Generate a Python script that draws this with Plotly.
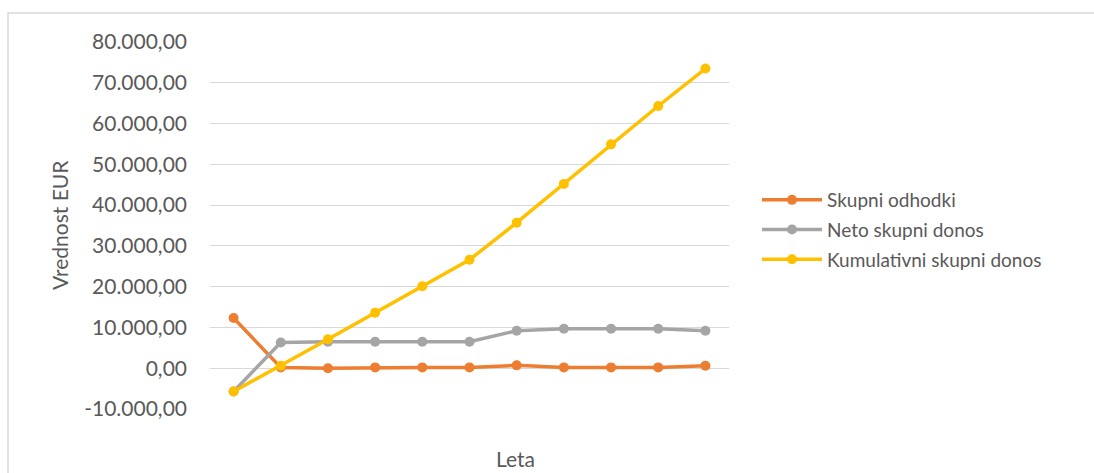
import plotly.graph_objects as go

leta = [1, 2, 3, 4, 5, 6, 7, 8, 9, 10, 11]
skupni_odhodki = [12300, 200, 0, 200, 200, 200, 700, 200, 200, 200, 600]
neto_skupni_donos = [-5700, 6300, 6500, 6500, 6500, 6500, 9200, 9700, 9700, 9700, 9200]
kumulativni_skupni_donos = [-5700, 600, 7100, 13600, 20100, 26600, 35700, 45200, 54900, 64300, 73500]

series_names = ["Skupni odhodki", "Neto skupni donos", "Kumulativni skupni donos"]
series_colors = ["#ED7D31", "#A5A5A5", "#FFC000"]
y_ticks = [-10000, 0, 10000, 20000, 30000, 40000, 50000, 60000, 70000, 80000]


def eu(v):
    s = f"{abs(v):,.2f}".replace(",", "X").replace(".", ",").replace("X", ".")
    return ("-" if v < 0 else "") + s


FONT = "Lato"
GREY = "#595959"

W, H = 1094, 473
L, R, T, B = 210, 1094 - 729, 42, 473 - 409
PW, PH = W - L - R, H - T - B

fig = go.Figure()
for name, vals, col in zip(series_names,
                           [skupni_odhodki, neto_skupni_donos, kumulativni_skupni_donos],
                           series_colors):
    fig.add_trace(go.Scatter(
        x=leta, y=vals, name=name, mode="lines+markers",
        line=dict(color=col, width=3.5),
        marker=dict(color=col, size=10, symbol="circle"),
        legendgroup=name,
    ))

def px_x(px):
    return (px - L) / PW

def px_y(py):
    return 1 - (py - T) / PH

fig.update_layout(
    width=W, height=H,
    margin=dict(l=L, r=R, t=T, b=B, pad=0),
    paper_bgcolor="white", plot_bgcolor="white",
    font=dict(family=FONT, color=GREY, size=20),
    showlegend=True,
    legend=dict(
        x=px_x(757), y=px_y(230), xanchor="left", yanchor="middle",
        font=dict(family=FONT, size=19, color=GREY),
        bgcolor="rgba(0,0,0,0)", itemwidth=60, tracegroupgap=2,
    ),
    xaxis=dict(
        range=[0.5, 11.5], showticklabels=False, showgrid=False,
        zeroline=False, showline=False, ticks="",
    ),
    yaxis=dict(
        range=[-10000, 80000], tickvals=y_ticks,
        ticktext=[eu(v) for v in y_ticks],
        showgrid=True, gridcolor="#D9D9D9", gridwidth=1.3,
        zeroline=False, showline=False, ticks="",
        tickfont=dict(family=FONT, size=21, color=GREY),
        ticklabelstandoff=22,
    ),
    shapes=[dict(
        type="rect", xref="paper", yref="paper",
        x0=px_x(8), x1=px_x(1110), y0=px_y(490), y1=px_y(13),
        line=dict(color="#D9D9D9", width=1.5), fillcolor="rgba(0,0,0,0)",
        layer="below",
    )],
    annotations=[
        dict(text="Vrednost EUR", xref="paper", yref="paper",
             x=px_x(60), y=px_y(225), xanchor="center", yanchor="middle",
             textangle=-90, showarrow=False,
             font=dict(family=FONT, size=21, color=GREY)),
        dict(text="Leta", xref="paper", yref="paper",
             x=px_x(515), y=px_y(458), xanchor="center", yanchor="middle",
             showarrow=False,
             font=dict(family=FONT, size=21, color=GREY)),
    ],
)

fig.write_html("out.html")
